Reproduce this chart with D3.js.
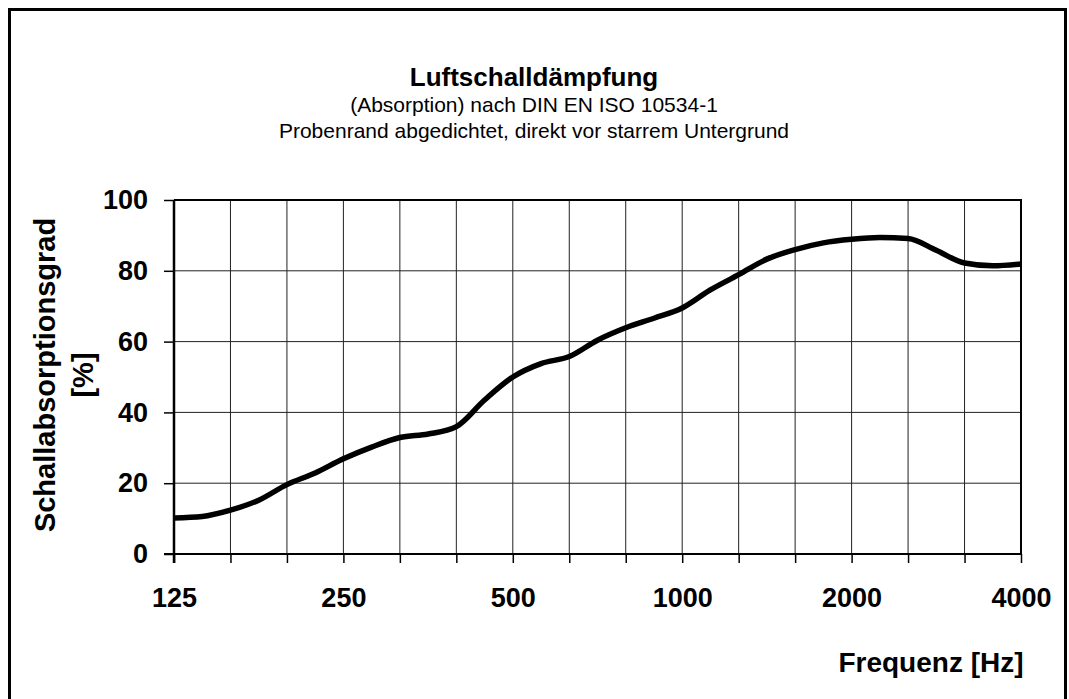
<!DOCTYPE html>
<html>
<head>
<meta charset="utf-8">
<script src="https://cdn.jsdelivr.net/npm/d3@7"></script>
<style>
  body { margin: 0; background: #fff; }
  svg { display: block; font-family: "Liberation Sans", Arial, sans-serif; }
  .axis path { display: none; }
  .axis line { stroke: #000; stroke-width: 1.5; }
  .axis text { font-size: 27px; font-weight: bold; fill: #000; }
</style>
</head>
<body>
<svg id="chart" width="1069" height="699"></svg>
<script>
// third-octave readout of the curve (Hz / %)
const freqs = [125, 140.3, 157.5, 176.8, 198.4, 222.7, 250, 280.6, 315, 353.6, 396.9, 445.4,
  500, 561.2, 630, 707.1, 793.7, 890.9, 1000, 1122, 1260, 1414, 1587, 1782, 2000, 2245,
  2520, 2828, 3175, 3564, 4000];
const absorption = [10.2, 10.6, 12.4, 15.2, 19.6, 22.9, 26.9, 30.2, 32.9, 33.9, 36.0, 43.5,
  50.0, 53.8, 55.8, 60.4, 63.9, 66.6, 69.5, 74.6, 78.9, 83.3, 86.0, 87.9, 88.9, 89.4,
  89.1, 85.8, 82.2, 81.4, 81.9];

const xLabels = [125, 250, 500, 1000, 2000, 4000];
const yTicks = [0, 20, 40, 60, 80, 100];
const titleLines = ['(Absorption) nach DIN EN ISO 10534-1', 'Probenrand abgedichtet, direkt vor starrem Untergrund'];

const svg = d3.select('#chart');
const plotL = 174, plotR = 1021, plotT = 200, plotB = 554;

const x = d3.scaleLog().domain([125, 4000]).range([plotL, plotR]);
const y = d3.scaleLinear().domain([0, 100]).range([plotB, plotT]);

// third-octave grid positions
const gridFreqs = d3.range(16).map(i => 125 * Math.pow(2, i / 3));

// outer frame
svg.append('rect')
  .attr('x', 9.5).attr('y', 9.5)
  .attr('width', 1056).attr('height', 720)
  .attr('fill', 'none').attr('stroke', '#000').attr('stroke-width', 3);

// grid
svg.append('g')
  .selectAll('line')
  .data(gridFreqs.slice(1, -1))
  .join('line')
  .attr('x1', d => x(d)).attr('x2', d => x(d))
  .attr('y1', plotT).attr('y2', plotB)
  .attr('stroke', '#222').attr('stroke-width', 1);

svg.append('g')
  .selectAll('line')
  .data(yTicks.slice(1, -1))
  .join('line')
  .attr('x1', plotL).attr('x2', plotR)
  .attr('y1', d => y(d)).attr('y2', d => y(d))
  .attr('stroke', '#222').attr('stroke-width', 1);

// plot frame: top + right
svg.append('path')
  .attr('d', `M${plotL},${plotT}H${plotR}V${plotB}`)
  .attr('fill', 'none').attr('stroke', '#000').attr('stroke-width', 2);

// axes
svg.append('g')
  .attr('class', 'axis')
  .attr('transform', `translate(${plotL},0)`)
  .call(d3.axisLeft(y).tickValues(yTicks).tickSize(10).tickPadding(16));

svg.append('g')
  .attr('class', 'axis')
  .attr('transform', `translate(0,${plotB})`)
  .call(d3.axisBottom(x).tickValues(gridFreqs).tickSize(9).tickPadding(25)
    .tickFormat(d => {
      const lab = xLabels.find(v => Math.abs(v - d) < 1);
      return lab ? lab : '';
    }));

svg.append('line')
  .attr('x1', plotL).attr('x2', plotL).attr('y1', plotT).attr('y2', plotB + 9)
  .attr('stroke', '#000').attr('stroke-width', 2.5);
svg.append('line')
  .attr('x1', plotL - 10).attr('x2', plotR).attr('y1', plotB).attr('y2', plotB)
  .attr('stroke', '#000').attr('stroke-width', 2);

// curve
const line = d3.line()
  .x((d, i) => x(freqs[i]))
  .y(d => y(d))
  .curve(d3.curveMonotoneX);

svg.append('path')
  .datum(absorption)
  .attr('d', line)
  .attr('fill', 'none')
  .attr('stroke', '#000')
  .attr('stroke-width', 5.5)
  .attr('stroke-linejoin', 'round');

// titles
const cx = 534;
svg.append('text')
  .attr('x', cx).attr('y', 86)
  .attr('text-anchor', 'middle')
  .attr('font-size', 26).attr('font-weight', 'bold')
  .text('Luftschalldämpfung');

svg.selectAll('text.sub')
  .data(titleLines)
  .join('text')
  .attr('class', 'sub')
  .attr('x', cx).attr('y', (d, i) => 112 + i * 26)
  .attr('text-anchor', 'middle')
  .attr('font-size', 21)
  .text(d => d);

svg.append('text')
  .attr('x', 931).attr('y', 672)
  .attr('text-anchor', 'middle')
  .attr('font-size', 28).attr('font-weight', 'bold')
  .text('Frequenz [Hz]');

const yTitle = svg.append('text')
  .attr('transform', 'translate(55,375) rotate(-90)')
  .attr('text-anchor', 'middle')
  .attr('font-size', 29).attr('font-weight', 'bold');
yTitle.append('tspan').attr('x', 0).attr('y', 0).text('Schallabsorptionsgrad');
yTitle.append('tspan').attr('x', 0).attr('y', 38).text('[%]');
</script>
</body>
</html>
